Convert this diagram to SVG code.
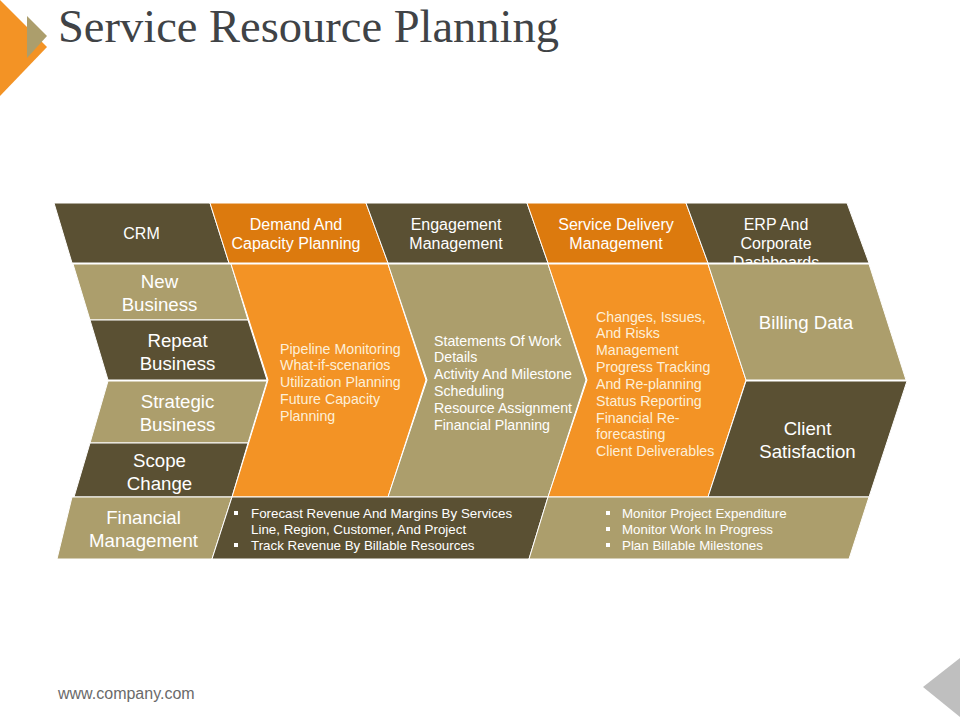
<svg xmlns="http://www.w3.org/2000/svg" width="960" height="720" viewBox="0 0 960 720">
<style>
text{font-family:"Liberation Sans",Arial,sans-serif;fill:#fff}
.m{text-anchor:middle}
.s{font-size:16px}
.b{font-size:18.67px}
.t{font-size:14.2px}
.w{fill:#FDEFD8}
.l{font-size:13.35px}
.d{fill:#5A5033}.o{fill:#AC9E6C}.r{fill:#F39325}.k{fill:#DC7A0E}
polygon.n{stroke:#fff;stroke-width:1}
.u{fill:#fff}
</style>
<rect width="960" height="720" fill="#fff"/>
<g id="decor">
<polygon points="0,0 47,47 0,96" fill="#F39325"/>
<polygon points="27,16 47,36 27,58" fill="#AC9E6C"/>
<polygon points="923,687 960,658 960,717" fill="#BFBFBF"/>
</g>
<text id="title" x="58" y="42" font-size="46.5" style="font-family:'Liberation Serif',serif;fill:#404346">Service Resource Planning</text>
<g id="connectors"></g>
<g id="crm"><polygon class="n d" points="54,203 210,203 229,263 72,263"/><text class="s m" x="141.500" y="239">CRM</text></g>
<g id="demand"><polygon class="n k" points="210,203 366,203 388,263 229,263"/><text class="s m" x="296" y="229.500">Demand And</text><text class="s m" x="296" y="248.500">Capacity Planning</text></g>
<g id="engagement"><polygon class="n d" points="366,203 527,203 548,263 388,263"/><text class="s m" x="456" y="229.500">Engagement</text><text class="s m" x="456" y="248.500">Management</text></g>
<g id="service"><polygon class="n k" points="527,203 686,203 708,263 548,263"/><text class="s m" x="616" y="229.500">Service Delivery</text><text class="s m" x="616" y="248.500">Management</text></g>
<g id="erp"><polygon class="n d" points="686,203 847,203 869,263 708,263"/><text class="s m" x="776" y="229.500">ERP And</text><text class="s m" x="776" y="248.500">Corporate</text><text class="s m" x="776" y="268">Dashboards</text></g>
<g id="new-business"><polygon class="n o" points="73,264 231,264 248,320 90,320"/><text class="b m" x="159.500" y="288">New</text><text class="b m" x="159.500" y="311">Business</text></g>
<g id="repeat-business"><polygon class="n d" points="90,320 248,320 267,380 108,380"/><text class="b m" x="177.500" y="347">Repeat</text><text class="b m" x="177.500" y="370">Business</text></g>
<g id="strategic-business"><polygon class="n o" points="108,381 267,381 248,443 90,443"/><text class="b m" x="177.500" y="408">Strategic</text><text class="b m" x="177.500" y="431">Business</text></g>
<g id="scope-change"><polygon class="n d" points="90,443 248,443 232,497 74,497"/><text class="b m" x="159.500" y="467">Scope</text><text class="b m" x="159.500" y="490">Change</text></g>
<g id="financial-management"><polygon class="n o" points="72,497 232,497 212,559 57,559"/><text class="b m" x="143.500" y="524">Financial</text><text class="b m" x="143.500" y="547">Management</text></g>
<g id="pipeline"><polygon class="n r" points="231,264 388,264 426,380 388,497 232,497 268,380"/>
<text class="t w" x="280" y="354">Pipeline Monitoring</text><text class="t w" x="280" y="370">What-if-scenarios</text><text class="t w" x="280" y="387">Utilization Planning</text><text class="t w" x="280" y="404">Future Capacity</text><text class="t w" x="280" y="421">Planning</text></g>
<g id="statements"><polygon class="n o" points="388,264 548,264 586,380 548,497 388,497 427,380"/>
<text class="t" x="434" y="346">Statements Of Work</text><text class="t" x="434" y="362">Details</text><text class="t" x="434" y="379">Activity And Milestone</text><text class="t" x="434" y="396">Scheduling</text><text class="t" x="434" y="413">Resource Assignment</text><text class="t" x="434" y="430">Financial Planning</text></g>
<g id="changes"><polygon class="n r" points="548,264 708,264 746,380 708,497 548,497 587,380"/>
<text class="t w" x="596" y="322">Changes, Issues,</text><text class="t w" x="596" y="338">And Risks</text><text class="t w" x="596" y="355">Management</text><text class="t w" x="596" y="372">Progress Tracking</text><text class="t w" x="596" y="389">And Re-planning</text><text class="t w" x="596" y="406">Status Reporting</text><text class="t w" x="596" y="423">Financial Re-</text><text class="t w" x="596" y="439">forecasting</text><text class="t w" x="596" y="456">Client Deliverables</text></g>
<g id="billing-data"><polygon class="n o" points="708,264 869,264 906,380 746,380"/><text class="b m" x="806" y="328.500">Billing Data</text></g>
<g id="client-satisfaction"><polygon class="n d" points="746,381 907,381 869,497 708,497"/><text class="b m" x="807.500" y="435">Client</text><text class="b m" x="807.500" y="458">Satisfaction</text></g>
<g id="forecast"><polygon class="n d" points="232,497 548,497 529,559 212,559"/>
<rect class="u" x="234" y="511" width="4" height="4"/><rect class="u" x="234" y="543" width="4" height="4"/>
<text class="l" x="251" y="518">Forecast Revenue And Margins By Services</text><text class="l" x="251" y="534">Line, Region, Customer, And Project</text><text class="l" x="251" y="550">Track Revenue By Billable Resources</text></g>
<g id="monitor"><polygon class="n o" points="548,497 869,497 849,559 529,559"/>
<rect class="u" x="606" y="511" width="4" height="4"/><rect class="u" x="606" y="527" width="4" height="4"/><rect class="u" x="606" y="543" width="4" height="4"/>
<text class="l" x="622" y="518">Monitor Project Expenditure</text><text class="l" x="622" y="534">Monitor Work In Progress</text><text class="l" x="622" y="550">Plan Billable Milestones</text></g>
<text id="footer" x="58" y="699" font-size="16" style="fill:#6A6A6A">www.company.com</text>
</svg>
